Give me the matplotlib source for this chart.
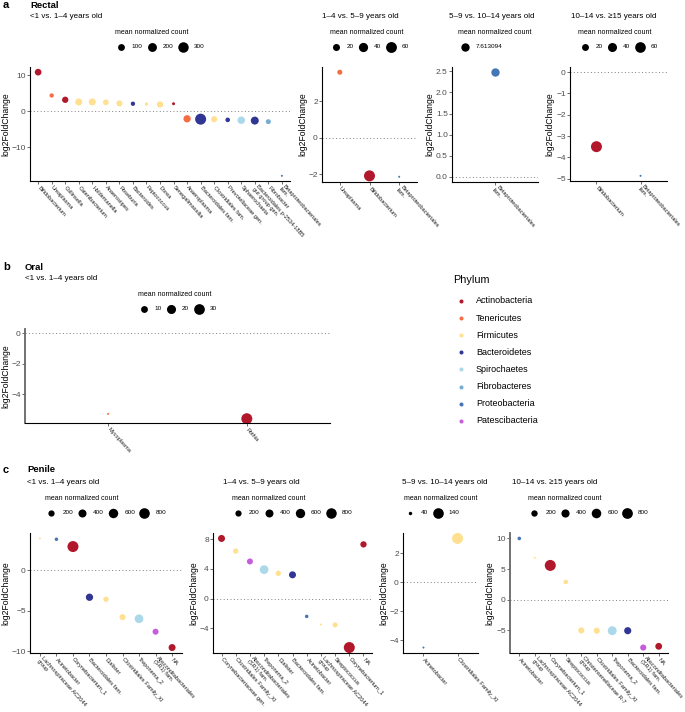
#!/usr/bin/env python3

import textwrap
import numpy as np
import matplotlib
matplotlib.use("Agg")
import matplotlib.pyplot as plt
from matplotlib.lines import Line2D

W, H = 685, 712

# phylum colours
phyla = ["Actinobacteria", "Tenericutes", "Firmicutes", "Bacteroidetes",
         "Spirochaetes", "Fibrobacteres", "Proteobacteria", "Patescibacteria"]
phylum_colors = ["#B2182B", "#F46D43", "#FEE090", "#313695",
                 "#ABD9E9", "#74ADD1", "#4575B4", "#C65BDB"]

taxon_phylum = {
    "Bifidobacterium": "Actinobacteria", "Ureaplasma": "Tenericutes",
    "Collinsella": "Actinobacteria", "Catenibacterium": "Firmicutes",
    "Holdemanella": "Firmicutes", "Anaerostipes": "Firmicutes",
    "Roseburia": "Firmicutes", "Bacteroides": "Bacteroidetes",
    "Peptococcus": "Firmicutes", "Dorea": "Firmicutes",
    "Senegalimassilia": "Actinobacteria", "Anaeroplasma": "Tenericutes",
    "Bacteroidales fam.": "Bacteroidetes", "Clostridiales fam.": "Firmicutes",
    "Prevotellaceae gen.": "Bacteroidetes", "Sphaerochaeta": "Spirochaetes",
    "Bacteroidales p-2534-18B5 gut group gen.": "Bacteroidetes",
    "Fibrobacter": "Fibrobacteres",
    "Betaproteobacteriales fam.": "Proteobacteria",
    "Mycoplasma": "Tenericutes", "Rothia": "Actinobacteria",
    "Lachnospiraceae AC2044 group": "Firmicutes",
    "Acinetobacter": "Proteobacteria", "Corynebacterium_1": "Actinobacteria",
    "Dialister": "Firmicutes", "Clostridiales Family_XI": "Firmicutes",
    "Treponema_2": "Spirochaetes",
    "Absconditabacteriales (SR1) fam.": "Patescibacteria",
    "NA": "Actinobacteria", "Corynebacteriaceae gen.": "Actinobacteria",
    "Streptococcus": "Firmicutes",
    "Christensenellaceae R-7 group": "Firmicutes",
}

# a: rectal
rectal1_taxa = ["Bifidobacterium", "Ureaplasma", "Collinsella", "Catenibacterium",
                "Holdemanella", "Anaerostipes", "Roseburia", "Bacteroides",
                "Peptococcus", "Dorea", "Senegalimassilia", "Anaeroplasma",
                "Bacteroidales fam.", "Clostridiales fam.", "Prevotellaceae gen.",
                "Sphaerochaeta", "Bacteroidales p-2534-18B5 gut group gen.",
                "Fibrobacter", "Betaproteobacteriales fam."]
rectal1_lfc = [10.9, 4.4, 3.2, 2.6, 2.6, 2.5, 2.2, 2.1, 2.0, 1.9, 2.1,
               -2.1, -2.2, -2.2, -2.4, -2.5, -2.6, -2.9, -18.0]
rectal1_count = [94, 25, 80, 107, 107, 60, 70, 25, 10, 80, 7,
                 120, 340, 70, 31, 128, 152, 40, 3]

rectal2_taxa = ["Ureaplasma", "Bifidobacterium", "Betaproteobacteriales fam."]
rectal2_lfc = [3.6, -2.1, -2.15]
rectal2_count = [8, 62, 1]

rectal3_taxa = ["Betaproteobacteriales fam."]
rectal3_lfc = [2.48]
rectal3_count = [7.613094]

rectal4_taxa = ["Bifidobacterium", "Betaproteobacteriales fam."]
rectal4_lfc = [-3.5, -4.87]
rectal4_count = [65, 1]

# b: oral
oral_taxa = ["Mycoplasma", "Rothia"]
oral_lfc = [-5.28, -5.6]
oral_count = [1, 32]

# c: penile
penile1_taxa = ["Lachnospiraceae AC2044 group", "Acinetobacter", "Corynebacterium_1",
                "Bacteroidales fam.", "Dialister", "Clostridiales Family_XI",
                "Treponema_2", "Absconditabacteriales (SR1) fam.", "NA"]
penile1_lfc = [3.9, 3.8, 2.9, -3.35, -3.6, -5.8, -6.0, -7.6, -9.55]
penile1_count = [5, 29, 880, 308, 122, 178, 490, 178, 275]

penile2_taxa = ["Corynebacteriaceae gen.", "Clostridiales Family_XI",
                "Absconditabacteriales (SR1) fam.", "Treponema_2", "Dialister",
                "Bacteroidales fam.", "Acinetobacter", "Lachnospiraceae AC2044 group",
                "Streptococcus", "Corynebacterium_1", "NA"]
penile2_lfc = [8.1, 6.4, 5.0, 3.9, 3.4, 3.2, -2.4, -3.5, -3.55, -6.6, 7.3]
penile2_count = [280, 123, 180, 500, 123, 280, 28, 3, 103, 900, 208]

penile3_taxa = ["Acinetobacter", "Clostridiales Family_XI"]
penile3_lfc = [-4.5, 3.0]
penile3_count = [37, 150]

penile4_taxa = ["Acinetobacter", "Lachnospiraceae AC2044 group", "Corynebacterium_1",
                "Streptococcus", "Christensenellaceae R-7 group",
                "Clostridiales Family_XI", "Treponema_2", "Bacteroidales fam.",
                "Absconditabacteriales (SR1) fam.", "NA"]
penile4_lfc = [10.0, 6.85, 5.6, 2.9, -5.0, -5.05, -5.05, -5.05, -7.8, -7.6]
penile4_count = [30, 3, 850, 70, 180, 180, 500, 280, 180, 245]

plt.rcParams["font.family"] = ["Liberation Sans", "DejaVu Sans"]

fig = plt.figure(figsize=(W / 100, H / 100), dpi=100)


def fx(x):
    return x / W


def fy(y):
    return 1 - y / H


# marker diameter in points, ggplot style area scale
def diam(v, lo, hi):
    f = 0.5 if hi == lo else (v - lo) / (hi - lo)
    return (2.0 + 9.0 * np.sqrt(f)) * 0.72


def size_legend(cx, top, breaks, labels, lo, hi):
    pitch = [20.5 + 3.5 * len(s) for s in labels]
    keys_w = 6 + sum(pitch[:-1]) + 12 + 3.5 * len(labels[-1])
    bw = max(keys_w, 73)
    left = cx - bw / 2
    fig.text(fx(left), fy(top - 34), "mean normalized count", fontsize=5,
             ha="left", va="center")
    x = left + 6
    for b, s, p in zip(breaks, labels, pitch):
        fig.add_artist(Line2D([fx(x)], [fy(top - 20)], marker="o", lw=0,
                              markersize=diam(b, lo, hi), color="black",
                              markeredgewidth=0, transform=fig.transFigure))
        fig.text(fx(x + 11), fy(top - 20), s, fontsize=4.6, ha="left", va="center")
        x += p


def panel(l, t, r, b, taxa, lfc, count, yticks, breaks, labels, grey_left=False):
    ax = fig.add_axes([l / W, 1 - b / H, (r - l) / W, (b - t) / H])
    n = len(taxa)
    x = np.arange(1, n + 1)
    lo, hi = min(count), max(count)
    sizes = [diam(c, lo, hi) ** 2 for c in count]
    colors = [phylum_colors[phyla.index(taxon_phylum[tx])] for tx in taxa]
    ax.axhline(0, color="#7F7F7F", lw=0.7, ls=(0, (1, 2.5)), zorder=1)
    ax.scatter(x, lfc, s=sizes, c=colors, linewidths=0, zorder=3)
    ymin, ymax = min(min(lfc), 0), max(max(lfc), 0)
    pad = 0.05 * (ymax - ymin)
    ax.set_ylim(ymin - pad, ymax + pad)
    ax.set_xlim(0.4, n + 0.6)
    ax.set_xticks(x)
    wrapped = [textwrap.fill(tx, 25, break_on_hyphens=False) for tx in taxa]
    ax.set_xticklabels(wrapped, rotation=-48, ha="left", va="center",
                       rotation_mode="anchor", fontsize=4.1, color="#1A1A1A",
                       linespacing=1.0)
    ax.set_yticks(yticks)
    ax.tick_params(axis="y", labelsize=6, labelcolor="#4D4D4D", length=2,
                   width=0.5, color="#333333", pad=1)
    ax.tick_params(axis="x", length=2, width=0.5, color="#333333", pad=2)
    ax.set_ylabel("log2FoldChange", fontsize=6.2, labelpad=1)
    for s in ["top", "right"]:
        ax.spines[s].set_visible(False)
    ax.spines["bottom"].set_linewidth(0.8)
    ax.spines["left"].set_linewidth(0.8)
    if grey_left:
        ax.spines["left"].set_color("#666666")
        ax.spines["left"].set_linewidth(1.3)
    ax.patch.set_alpha(0)
    size_legend((l + r) / 2, t, breaks, labels, lo, hi)
    return ax


# panel a
fig.text(fx(3), fy(5), "a", fontsize=8, fontweight="bold", va="center")
fig.text(fx(30), fy(5), "Rectal", fontsize=6.8, fontweight="bold", va="center")
fig.text(fx(30), fy(16), "<1 vs. 1\u20134 years old", fontsize=5.8, va="center")
fig.text(fx(322), fy(16), "1\u20134 vs. 5\u20139 years old", fontsize=5.8, va="center")
fig.text(fx(449), fy(16), "5\u20139 vs. 10\u201314 years old", fontsize=5.8, va="center")
fig.text(fx(571), fy(16), "10\u201314 vs. \u226515 years old", fontsize=5.8, va="center")

panel(30, 67, 290, 181, rectal1_taxa, rectal1_lfc, rectal1_count,
      [-10, 0, 10], [100, 200, 300], ["100", "200", "300"])
panel(322, 67, 417, 182, rectal2_taxa, rectal2_lfc, rectal2_count,
      [-2, 0, 2], [20, 40, 60], ["20", "40", "60"])
panel(452, 67, 538, 182, rectal3_taxa, rectal3_lfc, rectal3_count,
      [0, 0.5, 1.0, 1.5, 2.0, 2.5], [7.613094], ["7.613094"])
panel(570, 67, 667, 181, rectal4_taxa, rectal4_lfc, rectal4_count,
      [-5, -4, -3, -2, -1, 0], [20, 40, 60], ["20", "40", "60"])

# panel b
fig.text(fx(3), fy(267), "b", fontsize=8, fontweight="bold", va="center")
fig.text(fx(25), fy(267), "Oral", fontsize=6.8, fontweight="bold", va="center")
fig.text(fx(25), fy(279), "<1 vs. 1\u20134 years old", fontsize=5.8, va="center")
panel(25, 329, 330, 423, oral_taxa, oral_lfc, oral_count,
      [-4, -2, 0], [10, 20, 30], ["10", "20", "30"], grey_left=True)

# phylum legend
fig.text(fx(453), fy(280), "Phylum", fontsize=7.8, va="center")
for i, (name, col) in enumerate(zip(phyla, phylum_colors)):
    y = 301 + i * 17.1
    fig.add_artist(Line2D([fx(461)], [fy(y)], marker="o", lw=0, markersize=2.9,
                          color=col, markeredgewidth=0, transform=fig.transFigure))
    fig.text(fx(476), fy(y), name, fontsize=6.5, va="center")

# panel c
fig.text(fx(3), fy(470), "c", fontsize=8, fontweight="bold", va="center")
fig.text(fx(27), fy(470), "Penile", fontsize=6.8, fontweight="bold", va="center")
fig.text(fx(27), fy(483), "<1 vs. 1\u20134 years old", fontsize=5.8, va="center")
fig.text(fx(223), fy(483), "1\u20134 vs. 5\u20139 years old", fontsize=5.8, va="center")
fig.text(fx(402), fy(483), "5\u20139 vs. 10\u201314 years old", fontsize=5.8, va="center")
fig.text(fx(512), fy(483), "10\u201314 vs. \u226515 years old", fontsize=5.8, va="center")

big = [200, 400, 600, 800]
big_lab = ["200", "400", "600", "800"]
panel(30, 533, 182, 653, penile1_taxa, penile1_lfc, penile1_count,
      [-10, -5, 0], big, big_lab)
panel(213, 533, 372, 653, penile2_taxa, penile2_lfc, penile2_count,
      [-4, 0, 4, 8], big, big_lab)
panel(403, 533, 478, 653, penile3_taxa, penile3_lfc, penile3_count,
      [-4, -2, 0, 2], [40, 140], ["40", "140"])
panel(510, 533, 668, 653, penile4_taxa, penile4_lfc, penile4_count,
      [-5, 0, 5, 10], big, big_lab, grey_left=True)

fig.savefig("out.png", dpi=100)
